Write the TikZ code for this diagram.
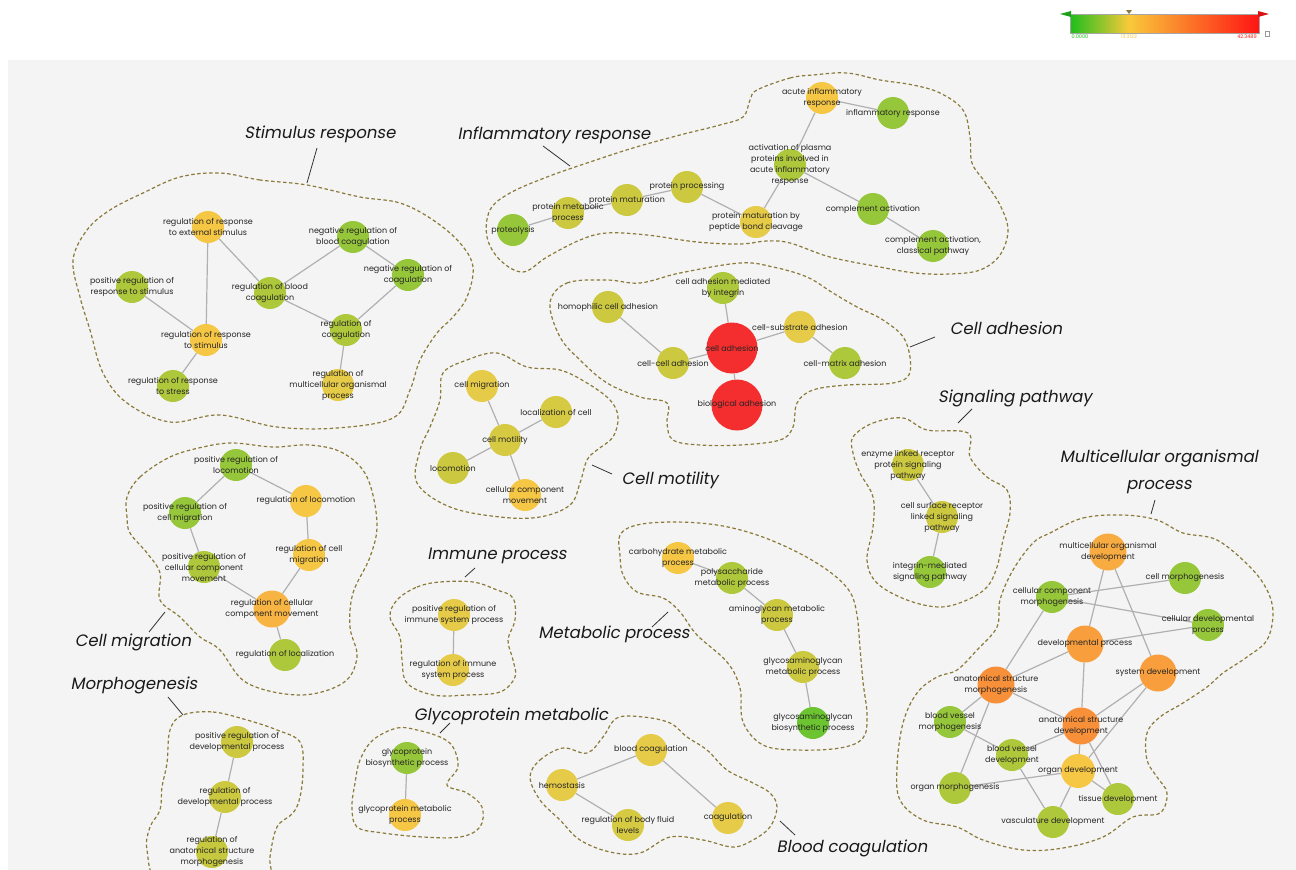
\documentclass[tikz,border=0pt]{standalone}
\usepackage{fontspec}
\setmainfont{Poppins}
\newfontfamily\headfont[FakeSlant=0.18]{Poppins}
\definecolor{panel}{HTML}{F4F4F4}
\definecolor{cgreen}{HTML}{96C73A}
\definecolor{cbright}{HTML}{6CC530}
\definecolor{cygreen}{HTML}{AEC83C}
\definecolor{colive}{HTML}{CCC940}
\definecolor{cyellow}{HTML}{E6CB48}
\definecolor{cgold}{HTML}{F6C645}
\definecolor{camber}{HTML}{F8B443}
\definecolor{corange}{HTML}{F89E3C}
\definecolor{cdeep}{HTML}{F8903A}
\definecolor{cred}{HTML}{F42E2E}
\definecolor{txtgray}{HTML}{252525}
\definecolor{linkgray}{HTML}{B0B0B0}
\definecolor{blobline}{HTML}{8A7A3A}
\definecolor{lgreen}{HTML}{1DBE1D}
\definecolor{lyellow}{HTML}{F9C93A}
\definecolor{lorange}{HTML}{FF8A2A}
\definecolor{lred}{HTML}{FF1414}
\pgfdeclarelayer{background}
\pgfdeclarelayer{edgelayer}
\pgfsetlayers{background,edgelayer,main}

\begin{document}
\begin{tikzpicture}[x=1pt,y=-1pt,
        term/.style={circle,fill=#1,minimum size=32pt,inner sep=0pt},
        big/.style={minimum size=37pt},
        huge/.style={minimum size=51pt},
        every label/.style={font=\fontsize{8}{11}\selectfont,align=center,text=txtgray,inner sep=0pt},
        link/.style={color=linkgray,line width=1.2pt},
        blob/.style={draw=blobline,line width=1.2pt,dash pattern=on 3.5pt off 2.5pt},
        head/.style={font=\headfont\fontsize{16.5}{27}\selectfont,align=center,text=black!90},
        leader/.style={draw=black!80,line width=0.8pt},
        legendtext/.style={font=\fontsize{5}{6}\selectfont,inner sep=0pt}]
        \useasboundingbox (0,0) rectangle (1296,870);

        % panel and cluster outlines
        \begin{pgfonlayer}{background}
        \fill[panel] (8,60) rectangle (1296,870);
        \draw[blob] plot[smooth cycle,tension=0.6] coordinates {(307,185) (260,180) (220,173) (180,177) (143,193) (110,210) (87,230) (73,260) (80,297) (90,330) (103,373) (127,403) (170,422) (220,415) (277,427) (337,428) (393,418) (410,390) (420,360) (437,333) (453,317) (467,297) (473,267) (460,243) (433,220) (400,203) (360,197)};
        \draw[blob] plot[smooth cycle,tension=0.6] coordinates {(757,90) (790,78) (813,75) (847,73) (880,80) (913,85) (940,93) (963,110) (970,137) (972,163) (985,182) (1000,205) (1008,230) (1000,255) (980,270) (950,274) (915,273) (880,267) (830,257) (790,243) (767,241) (740,244) (697,242) (647,235) (607,233) (580,240) (547,257) (523,272) (500,260) (487,237) (490,210) (510,193) (547,177) (587,163) (633,148) (680,135) (720,125) (743,117) (750,100)};
        \draw[blob] plot[smooth cycle,tension=0.6] coordinates {(550,303) (567,283) (607,280) (640,283) (680,273) (740,263) (773,267) (807,277) (833,293) (857,307) (883,320) (905,340) (910,372) (893,383) (847,385) (813,390) (797,403) (793,427) (780,440) (740,445) (700,445) (673,440) (667,423) (667,403) (640,397) (607,383) (580,360) (560,337)};
        \draw[blob] plot[smooth cycle,tension=0.6] coordinates {(443,373) (467,360) (497,353) (527,367) (560,370) (587,383) (610,400) (618,417) (613,437) (597,450) (587,460) (580,483) (570,505) (540,517) (500,517) (450,507) (417,483) (420,450) (430,427) (440,400)};
        \draw[blob] plot[smooth cycle,tension=0.6] coordinates {(127,497) (140,477) (170,457) (203,447) (233,443) (273,447) (310,445) (343,453) (367,477) (377,523) (370,557) (353,593) (350,627) (357,657) (343,683) (300,695) (247,683) (220,650) (200,637) (180,617) (160,600) (160,573) (147,553) (130,533) (127,517)};
        \draw[blob] plot[smooth cycle,tension=0.6] coordinates {(853,437) (873,423) (903,418) (927,430) (968,433) (970,457) (987,477) (1007,490) (1010,513) (1003,540) (997,567) (987,587) (967,600) (940,607) (907,600) (877,583) (867,560) (873,527) (873,497) (860,473) (853,453)};
        \draw[blob] plot[smooth cycle,tension=0.6] coordinates {(1050,533) (1083,518) (1123,515) (1157,520) (1183,533) (1217,540) (1250,567) (1267,590) (1273,613) (1267,640) (1247,657) (1223,673) (1207,687) (1183,703) (1160,717) (1147,733) (1147,760) (1157,777) (1167,793) (1160,813) (1133,817) (1103,837) (1063,848) (1023,850) (983,840) (957,827) (923,820) (900,800) (897,767) (903,723) (917,693) (937,677) (957,670) (977,650) (997,627) (1000,600) (1013,570) (1033,543)};
        \draw[blob] plot[smooth cycle,tension=0.6] coordinates {(620,535) (637,525) (673,522) (717,525) (757,535) (797,552) (830,572) (850,592) (857,615) (860,648) (863,682) (867,715) (863,738) (840,748) (797,750) (763,745) (743,722) (740,688) (727,662) (697,635) (680,612) (663,598) (637,592) (623,575) (620,555)};
        \draw[blob] plot[smooth cycle,tension=0.6] coordinates {(397,600) (417,587) (440,582) (473,582) (497,590) (513,598) (515,620) (508,640) (513,660) (515,677) (500,692) (467,695) (433,695) (407,683) (402,660) (400,637) (390,617)};
        \draw[blob] plot[smooth cycle,tension=0.6] coordinates {(373,740) (397,728) (417,730) (440,737) (453,747) (458,767) (447,785) (467,793) (482,807) (480,827) (460,837) (423,837) (383,833) (357,827) (352,807) (355,783) (360,760)};
        \draw[blob] plot[smooth cycle,tension=0.6] coordinates {(183,715) (213,712) (247,720) (277,730) (300,742) (303,770) (300,797) (293,813) (277,827) (270,857) (268,885) (220,900) (160,885) (147,850) (150,827) (160,810) (162,787) (167,763) (170,730)};
        \draw[blob] plot[smooth cycle,tension=0.6] coordinates {(530,777) (540,760) (563,748) (587,753) (603,737) (617,718) (643,717) (670,723) (687,737) (707,750) (727,770) (753,783) (770,793) (777,807) (770,827) (753,840) (733,847) (703,840) (670,837) (640,853) (610,852) (580,840) (560,820) (540,800)};
        \end{pgfonlayer}

        % legend
        \shade[left color=lgreen,right color=lyellow] (1070,14) rectangle (1129,33);
        \shade[left color=lyellow,middle color=lorange,right color=lred] (1129,14) rectangle (1259,33);
        \draw[black!35,line width=0.5pt] (1070,14) rectangle (1259,33);
        \fill[lgreen!85!black] (1060,14) -- (1071,11) -- (1071,17) -- cycle;
        \fill[lred!85!black] (1269,14) -- (1258,11) -- (1258,17) -- cycle;
        \fill[blobline] (1126,10) -- (1132,10) -- (1129,14) -- cycle;
        \draw[black!40,line width=0.5pt] (1265,31) rectangle (1269,36);
        \node[legendtext,text=lgreen] (lmin) at (1080,37) {0.0000};
        \node[legendtext,text=lyellow] (lmid) at (1129,37) {13.3122};
        \node[legendtext,text=lred] (lmax) at (1247,37) {42.3489};

        % stimulus response
        \node[term=cgold,label={center:{regulation of response\\to external stimulus}}] (extstim) at (208,227) {};
        \node[term=cgreen,label={center:{negative regulation of\\blood coagulation}}] (negblood) at (353,237) {};
        \node[term=cgreen,label={center:{negative regulation of\\coagulation}}] (negcoag) at (408,275) {};
        \node[term=cygreen,label={center:{positive regulation of\\response to stimulus}}] (posresp) at (132,287) {};
        \node[term=cygreen,label={center:{regulation of blood\\coagulation}}] (bloodreg) at (270,293) {};
        \node[term=cgold,label={center:{regulation of response\\to stimulus}}] (respstim) at (206,340) {};
        \node[term=cygreen,label={center:{regulation of\\coagulation}}] (regcoag) at (346,330) {};
        \node[term=cygreen,label={center:{regulation of response\\to stress}}] (stress) at (173,386) {};
        \node[term=cyellow,label={center:{regulation of\\multicellular organismal\\process}}] (multireg) at (338,385) {};

        % inflammatory response
        \node[term=cgold,label={center:{acute inflammatory\\response}}] (acute) at (822,98) {};
        \node[term=cgreen,label={center:{inflammatory response}}] (inflam) at (893,113) {};
        \node[term=cygreen,label={center:{activation of plasma\\proteins involved in\\acute inflammatory\\response}}] (plasma) at (790,165) {};
        \node[term=cgreen,label={center:{complement activation}}] (complement) at (873,209) {};
        \node[term=cgreen,label={center:{complement activation,\\classical pathway}}] (classical) at (933,246) {};
        \node[term=colive,label={center:{protein processing}}] (processing) at (687,187) {};
        \node[term=colive,label={center:{protein maturation}}] (maturation) at (627,200) {};
        \node[term=colive,label={center:{protein metabolic\\process}}] (protmeta) at (568,213) {};
        \node[term=cgreen,label={center:{proteolysis}}] (proteolysis) at (513,230) {};
        \node[term=cyellow,label={center:{protein maturation by\\peptide bond cleavage}}] (peptide) at (756,222) {};

        % cell adhesion
        \node[term=cygreen,label={center:{cell adhesion mediated\\by integrin}}] (integrin) at (723,288) {};
        \node[term=colive,label={center:{homophilic cell adhesion}}] (homophilic) at (608,307) {};
        \node[term=cyellow,label={center:{cell-substrate adhesion}}] (substrate) at (800,327) {};
        \node[term=cred,huge,label={center:{cell adhesion}}] (celladh) at (732,348) {};
        \node[term=colive,label={center:{cell-cell adhesion}}] (cellcell) at (673,363) {};
        \node[term=cygreen,label={center:{cell-matrix adhesion}}] (matrix) at (845,363) {};
        \node[term=cred,huge,label={center:{biological adhesion}}] (bioadh) at (737,405) {};

        % cell motility
        \node[term=cyellow,label={center:{cell migration}}] (migration) at (482,386) {};
        \node[term=colive!60!cyellow,label={center:{localization of cell}}] (localcell) at (556,412) {};
        \node[term=colive!60!cyellow,label={center:{cell motility}}] (motility) at (505,440) {};
        \node[term=colive,label={center:{locomotion}}] (locomotion) at (453,468) {};
        \node[term=cgold,label={center:{cellular component\\movement}}] (ccmove) at (525,495) {};

        % cell migration
        \node[term=cgreen,label={center:{positive regulation of\\locomotion}}] (posloco) at (236,465) {};
        \node[term=cgold,label={center:{regulation of locomotion}}] (regloco) at (306,501) {};
        \node[term=cgreen,label={center:{positive regulation of\\cell migration}}] (poscellmig) at (185,513) {};
        \node[term=cgold,label={center:{regulation of cell\\migration}}] (regcellmig) at (309,555) {};
        \node[term=cygreen,label={center:{positive regulation of\\cellular component\\movement}}] (posccm) at (204,567) {};
        \node[term=camber,big,label={center:{regulation of cellular\\component movement}}] (regccm) at (272,609) {};
        \node[term=cygreen,label={center:{regulation of localization}}] (regloc) at (285,655) {};

        % signaling pathway
        \node[term=colive,label={center:{enzyme linked receptor\\protein signaling\\pathway}}] (enzyme) at (908,465) {};
        \node[term=colive,label={center:{cell surface receptor\\linked signaling\\pathway}}] (surface) at (942,517) {};
        \node[term=cgreen,label={center:{integrin-mediated\\signaling pathway}}] (integrinsig) at (930,572) {};

        % multicellular organismal process
        \node[term=camber!60!corange,big,label={center:{multicellular organismal\\development}}] (multidev) at (1108,552) {};
        \node[term=cgreen,label={center:{cell morphogenesis}}] (cellmorph) at (1185,578) {};
        \node[term=cgreen,label={center:{cellular component\\morphogenesis}}] (ccmorph) at (1052,597) {};
        \node[term=cgreen,label={center:{cellular developmental\\process}}] (celldev) at (1208,625) {};
        \node[term=corange,big,label={center:{developmental process}}] (devproc) at (1085,644) {};
        \node[term=corange,big,label={center:{system development}}] (sysdev) at (1158,673) {};
        \node[term=cdeep,big,label={center:{anatomical structure\\morphogenesis}}] (asmorph) at (996,685) {};
        \node[term=cgreen,label={center:{blood vessel\\morphogenesis}}] (bvmorph) at (950,722) {};
        \node[term=cdeep,big,label={center:{anatomical structure\\development}}] (asdev) at (1081,726) {};
        \node[term=cygreen,label={center:{blood vessel\\development}}] (bvdev) at (1012,755) {};
        \node[term=cgold,minimum size=34pt,label={center:{organ development}}] (organdev) at (1078,771) {};
        \node[term=cygreen,label={center:{organ morphogenesis}}] (organmorph) at (955,788) {};
        \node[term=cygreen,label={center:{tissue development}}] (tissuedev) at (1118,799) {};
        \node[term=cygreen,label={center:{vasculature development}}] (vascdev) at (1053,822) {};

        % metabolic process
        \node[term=cgold,label={center:{carbohydrate metabolic\\process}}] (carb) at (678,558) {};
        \node[term=cygreen,label={center:{polysaccharide\\metabolic process}}] (polysac) at (732,578) {};
        \node[term=colive,label={center:{aminoglycan metabolic\\process}}] (amino) at (777,615) {};
        \node[term=colive,label={center:{glycosaminoglycan\\metabolic process}}] (gagmeta) at (803,667) {};
        \node[term=cbright,label={center:{glycosaminoglycan\\biosynthetic process}}] (gagbio) at (813,723) {};

        % immune process
        \node[term=cyellow,label={center:{positive regulation of\\immune system process}}] (posimmune) at (454,615) {};
        \node[term=cyellow,label={center:{regulation of immune\\system process}}] (regimmune) at (453,670) {};

        % glycoprotein metabolic
        \node[term=cgreen,label={center:{glycoprotein\\biosynthetic process}}] (glycobio) at (407,758) {};
        \node[term=cgold,label={center:{glycoprotein metabolic\\process}}] (glycometa) at (405,815) {};

        % morphogenesis
        \node[term=colive,label={center:{positive regulation of\\developmental process}}] (posdev) at (237,742) {};
        \node[term=colive,label={center:{regulation of\\developmental process}}] (regdev) at (225,797) {};
        \node[term=colive!80!cygreen,label={center:{regulation of\\anatomical structure\\morphogenesis}}] (reganat) at (212,852) {};

        % blood coagulation
        \node[term=cyellow,label={center:{blood coagulation}}] (bloodcoag) at (651,750) {};
        \node[term=cyellow,label={center:{hemostasis}}] (hemostasis) at (562,785) {};
        \node[term=colive!60!cyellow,label={center:{regulation of body fluid\\levels}}] (bodyfluid) at (628,825) {};
        \node[term=cyellow,label={center:{coagulation}}] (coagulation) at (728,818) {};

        \begin{pgfonlayer}{edgelayer}
        \path[link]
        (extstim) edge (respstim)
        (extstim) edge (bloodreg)
        (posresp) edge (respstim)
        (respstim) edge (stress)
        (bloodreg) edge (negblood)
        (negblood) edge (negcoag)
        (negcoag) edge (regcoag)
        (bloodreg) edge (regcoag)
        (regcoag) edge (multireg)
        (acute) edge (inflam)
        (acute) edge (plasma)
        (plasma) edge (complement)
        (complement) edge (classical)
        (plasma) edge (peptide)
        (peptide) edge (processing)
        (processing) edge (maturation)
        (maturation) edge (protmeta)
        (protmeta) edge (proteolysis)
        (integrin) edge (celladh)
        (homophilic) edge (cellcell)
        (cellcell) edge (celladh)
        (celladh) edge (substrate)
        (substrate) edge (matrix)
        (celladh) edge (bioadh)
        (migration) edge (motility)
        (localcell) edge (motility)
        (motility) edge (locomotion)
        (motility) edge (ccmove)
        (posloco) edge (regloco)
        (posloco) edge (poscellmig)
        (poscellmig) edge (posccm)
        (regloco) edge (regcellmig)
        (regcellmig) edge (regccm)
        (posccm) edge (regccm)
        (regccm) edge (regloc)
        (enzyme) edge (surface)
        (surface) edge (integrinsig)
        (multidev) edge (devproc)
        (multidev) edge (sysdev)
        (ccmorph) edge (cellmorph)
        (ccmorph) edge (celldev)
        (ccmorph) edge (asmorph)
        (devproc) edge (celldev)
        (devproc) edge (asmorph)
        (devproc) edge (asdev)
        (sysdev) edge (asdev)
        (sysdev) edge (organdev)
        (asmorph) edge (bvmorph)
        (asmorph) edge (asdev)
        (asmorph) edge (organmorph)
        (bvmorph) edge (bvdev)
        (bvdev) edge (asdev)
        (bvdev) edge (vascdev)
        (asdev) edge (organdev)
        (asdev) edge (tissuedev)
        (organdev) edge (organmorph)
        (organdev) edge (tissuedev)
        (organdev) edge (vascdev)
        (carb) edge (polysac)
        (polysac) edge (amino)
        (amino) edge (gagmeta)
        (gagmeta) edge (gagbio)
        (posimmune) edge (regimmune)
        (glycobio) edge (glycometa)
        (posdev) edge (regdev)
        (regdev) edge (reganat)
        (bloodcoag) edge (hemostasis)
        (bloodcoag) edge (coagulation)
        (hemostasis) edge (bodyfluid)
        ;
        \end{pgfonlayer}

        % cluster titles
        \node[head] (tstim) at (320,134) {Stimulus response};
        \node[head] (tinflam) at (554,135) {Inflammatory response};
        \node[head] (tadh) at (1006,328) {Cell adhesion};
        \node[head] (tsignal) at (1015,398) {Signaling pathway};
        \node[head] (tmulti) at (1159,472) {Multicellular organismal\\process};
        \node[head] (tmotil) at (670,480) {Cell motility};
        \node[head] (tmigr) at (133,642) {Cell migration};
        \node[head] (timmune) at (497,556) {Immune process};
        \node[head] (tmetab) at (614,634) {Metabolic process};
        \node[head] (tglyco) at (511,716) {Glycoprotein metabolic};
        \node[head] (tmorph) at (134,685) {Morphogenesis};
        \node[head] (tblood) at (852,848) {Blood coagulation};

        \coordinate (stim1) at (317,148);  \coordinate (stim2) at (307,183);
        \coordinate (inf1) at (543,146);   \coordinate (inf2) at (570,166);
        \coordinate (adh1) at (910,347);   \coordinate (adh2) at (935,337);
        \coordinate (sig1) at (972,409);   \coordinate (sig2) at (958,423);
        \coordinate (mul1) at (1155,500);  \coordinate (mul2) at (1151,514);
        \coordinate (mot1) at (592,465);   \coordinate (mot2) at (612,474);
        \coordinate (mig1) at (165,612);   \coordinate (mig2) at (149,632);
        \coordinate (imm1) at (475,568);   \coordinate (imm2) at (465,577);
        \coordinate (met1) at (668,612);   \coordinate (met2) at (652,627);
        \coordinate (gly1) at (450,723);   \coordinate (gly2) at (440,733);
        \coordinate (mor1) at (168,697);   \coordinate (mor2) at (183,715);
        \coordinate (blo1) at (780,821);   \coordinate (blo2) at (795,835);
        \path[leader] (stim1) edge (stim2) (inf1) edge (inf2) (adh1) edge (adh2)
        (sig1) edge (sig2) (mul1) edge (mul2) (mot1) edge (mot2) (mig1) edge (mig2)
        (imm1) edge (imm2) (met1) edge (met2) (gly1) edge (gly2) (mor1) edge (mor2)
        (blo1) edge (blo2);
\end{tikzpicture}
\end{document}
